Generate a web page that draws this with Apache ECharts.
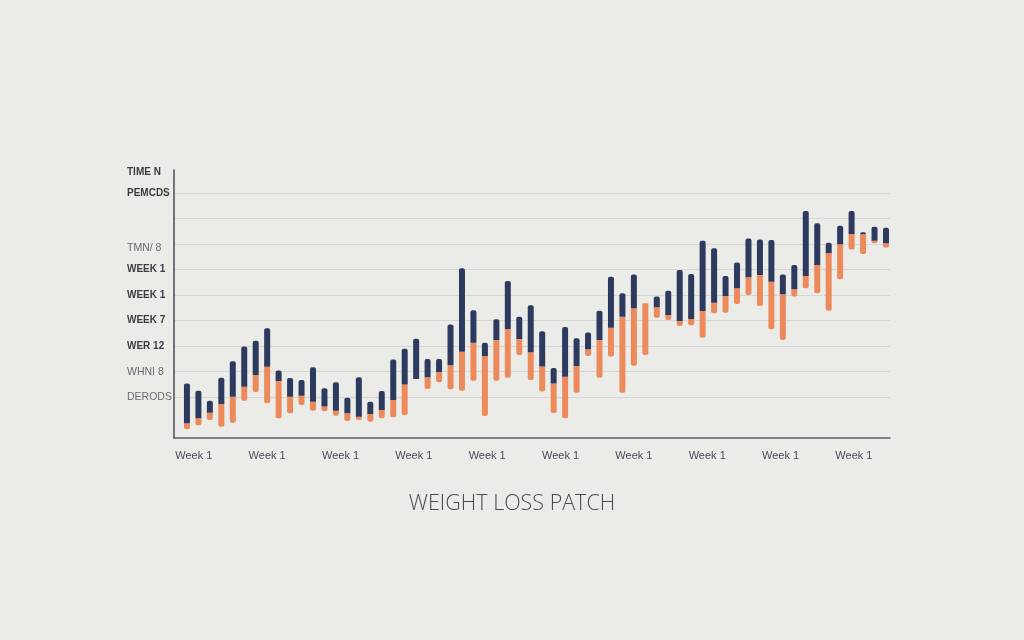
<!DOCTYPE html>
<html>
<head>
<meta charset="utf-8">
<script src="https://cdn.jsdelivr.net/npm/echarts@6/dist/echarts.min.js"></script>
<style>
html,body{margin:0;padding:0;background:#ebebe8;}
#c{width:1024px;height:640px;}
</style>
</head>
<body>
<div id="c"></div>
<script>
// Bar top (navy start), split point (navy/orange), bottom (orange end), in chart units
const barTop = [2.14,1.85,1.46,2.36,3.01,3.58,3.81,4.30,2.64,2.35,2.27,2.77,1.95,2.18,1.58,2.38,1.42,1.84,3.08,3.50,3.89,3.10,3.10,4.45,6.65,5.01,3.73,4.65,6.15,4.75,5.20,4.18,2.74,4.35,3.91,4.13,4.99,6.32,5.67,6.41,5.28,5.54,5.77,6.58,6.43,7.73,7.43,6.35,6.88,7.82,7.78,7.76,6.41,6.78,8.89,8.41,7.65,8.32,8.89,8.06,8.28,8.24];
const barSplit = [0.58,0.77,0.99,1.33,1.62,2.01,2.47,2.79,2.23,1.62,1.66,1.42,1.23,1.07,0.97,0.83,0.94,1.10,1.49,2.10,2.31,2.38,2.59,2.85,3.38,3.73,3.21,3.84,4.27,3.88,3.36,2.80,2.14,2.40,2.82,3.48,3.84,4.32,4.75,5.08,5.28,5.12,4.82,4.58,4.66,4.98,5.30,5.56,5.87,6.30,6.39,6.12,5.63,5.83,6.35,6.78,7.24,7.59,7.99,7.98,7.73,7.63];
const barBottom = [0.34,0.50,0.71,0.44,0.60,1.46,1.80,1.36,0.77,0.97,1.29,1.07,1.05,0.87,0.67,0.71,0.64,0.77,0.81,0.90,2.31,1.92,2.18,1.91,1.85,2.24,0.86,2.24,2.36,3.25,2.27,1.82,0.98,0.77,1.77,3.21,2.36,3.19,1.77,2.83,3.25,4.71,4.62,4.39,4.42,3.93,4.89,4.91,5.25,5.60,5.17,4.26,3.84,5.54,5.87,5.67,4.99,6.22,7.39,7.21,7.63,7.46];

// Axis text
const xTickLabels = ['Week 1','Week 1','Week 1','Week 1','Week 1','Week 1','Week 1','Week 1','Week 1','Week 1'];
const xTickPositions = [0.6,7.0,13.4,19.8,26.2,32.6,39.0,45.4,51.8,58.2];
const yTickLabels = ['DERODS','WHNI 8','WER 12','WEEK 7','WEEK 1','WEEK 1','TMN/ 8','','PEMCDS','TIME N'];
const yTickBold =   [false,   false,   true,    true,    true,    true,    false,   false, true,   true];
const yGridValues = [1.6,2.6,3.6,4.6,5.6,6.6,7.6,8.6,9.6];
const yLabelValues = [1.62,2.6,3.6,4.6,5.6,6.6,7.45,8.6,9.6,10.42];
const titleText = 'WEIGHT LOSS PATCH';

const idx = barTop.map((_, i) => i);
const orangeData = idx.map(i => [i, barBottom[i], barSplit[i]]);
const navyData = idx.map(i => [i, barSplit[i], barTop[i]]);

function makeRender(color, radius) {
  return function (params, api) {
    const x = api.value(0);
    const lo = api.coord([x, api.value(1)]);
    const hi = api.coord([x, api.value(2)]);
    const h = lo[1] - hi[1];
    if (h <= 0.01) return null;
    const w = 6;
    return {
      type: 'rect',
      shape: {x: lo[0] - w / 2, y: hi[1], width: w, height: h, r: radius},
      style: {fill: color}
    };
  };
}

const chart = echarts.init(document.getElementById('c'), null, {renderer: 'canvas'});
chart.setOption({
  backgroundColor: '#ebebe8',
  animation: false,
  title: {
    text: titleText,
    left: 'center',
    top: 488,
    textStyle: {fontFamily: 'Open Sans', fontSize: 21.5, fontWeight: 300, color: '#4a4b51'}
  },
  grid: {left: 174, right: 134, top: 170, bottom: 202},
  xAxis: {
    type: 'value',
    min: -1.13,
    max: 61.35,
    splitLine: {show: false},
    axisLine: {show: true, onZero: false, lineStyle: {color: '#5a5d66', width: 1.5}},
    axisTick: {show: false, customValues: xTickPositions},
    axisLabel: {
      customValues: xTickPositions,
      margin: 12,
      fontFamily: 'Liberation Sans',
      fontSize: 11,
      color: '#4a4d58',
      formatter: function (v) {
        const k = xTickPositions.findIndex(p => Math.abs(p - v) < 1e-6);
        return k >= 0 ? xTickLabels[k] : '';
      }
    }
  },
  yAxis: {
    type: 'value',
    min: 0,
    max: 10.5,
    axisLine: {show: true, onZero: false, lineStyle: {color: '#4a4d58', width: 1.5}},
    axisTick: {show: false, customValues: yGridValues},
    splitLine: {show: true, lineStyle: {color: '#d6d6d2', width: 1}},
    axisLabel: {
      customValues: yLabelValues,
      align: 'left',
      margin: 47,
      formatter: function (v) {
        const k = yLabelValues.findIndex(p => Math.abs(p - v) < 1e-6);
        if (k < 0) return '';
        return yTickBold[k] ? '{b|' + yTickLabels[k] + '}' : '{n|' + yTickLabels[k] + '}';
      },
      rich: {
        b: {fontFamily: 'Liberation Sans', fontSize: 10, fontWeight: 'bold', color: '#3c3c40'},
        n: {fontFamily: 'Liberation Sans', fontSize: 10.5, fontWeight: 'normal', color: '#6a6a70'}
      }
    }
  },
  series: [
    {
      type: 'custom', data: orangeData, encode: {x: 0, y: [1, 2]},
      renderItem: makeRender('#ec8a5c', [0, 0, 2, 2])
    },
    {
      type: 'custom', data: navyData, encode: {x: 0, y: [1, 2]},
      renderItem: makeRender('#2c3a5f', [2, 2, 0, 0])
    }
  ]
});
</script>
</body>
</html>
